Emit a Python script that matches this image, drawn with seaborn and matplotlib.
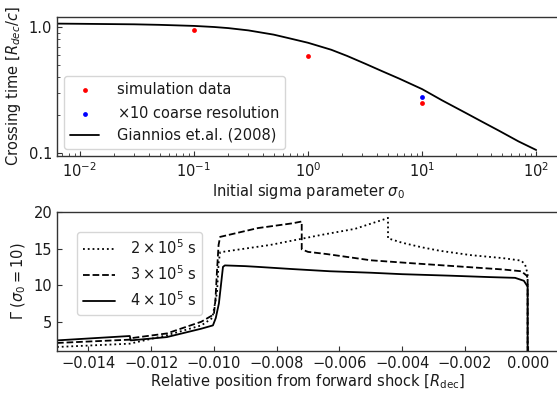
import numpy as np
import pandas as pd
import matplotlib
matplotlib.use("Agg")
import matplotlib.pyplot as plt
import seaborn as sns
from matplotlib.ticker import LogLocator, FixedLocator, FixedFormatter, NullFormatter

# ---------------- data: top panel ----------------
sigma_sim = [0.1, 1.0, 10.0]
tcross_sim = [0.95, 0.59, 0.25]
sigma_coarse = [10.0]
tcross_coarse = [0.28]
sigma_theory = [0.006, 0.01, 0.03, 0.05, 0.1, 0.15, 0.2, 0.3, 0.5, 0.7, 1.0, 1.6, 2.2, 3.2,
                4.5, 6.3, 10.0, 15.0, 24.0, 33.0, 47.0, 70.0, 100.0]
tcross_theory = [1.064, 1.06, 1.05, 1.04, 1.02, 1.0, 0.98, 0.94, 0.87, 0.81, 0.75, 0.66, 0.59, 0.51,
                 0.445, 0.39, 0.322, 0.262, 0.209, 0.179, 0.151, 0.124, 0.106]

# ---------------- data: bottom panel ----------------
pos_2e5 = [-0.0150, -0.01268, -0.0115, -0.0104, -0.01005, -0.0099, -0.00985, -0.0098, -0.0090,
           -0.0082, -0.0066, -0.0055, -0.0045, -0.00445, -0.00445, -0.0040, -0.0034, -0.0028,
           -0.0018, -0.0008, -0.0002, -0.00008, -0.00003, 0.0, 0.0]
gam_2e5 = [1.55, 2.0, 3.15, 4.5, 5.5, 9.0, 13.0, 14.5, 15.0,
           15.5, 16.85, 17.7, 19.1, 19.2, 16.4, 15.8, 15.2, 14.7,
           14.1, 13.7, 13.35, 12.8, 12.0, 11.5, 0.5]
pos_3e5 = [-0.0150, -0.01268, -0.01265, -0.0115, -0.0104, -0.0100, -0.00995, -0.0099, -0.00985,
           -0.0098, -0.0086, -0.0075, -0.0072, -0.0072, -0.0070, -0.0064, -0.0050, -0.0037,
           -0.0020, -0.0008, -0.0002, -0.00003, 0.0, 0.0]
gam_3e5 = [2.1, 2.55, 2.75, 3.4, 5.0, 6.0, 8.0, 12.0, 15.5,
           16.6, 17.8, 18.45, 18.7, 14.9, 14.55, 14.25, 13.4, 13.0,
           12.5, 12.15, 11.9, 11.3, 11.0, 0.5]
pos_4e5 = [-0.0150, -0.01268, -0.01265, -0.0115, -0.0104, -0.01003, -0.00994, -0.00984, -0.00978,
           -0.00971, -0.00965, -0.0090, -0.0086, -0.0075, -0.0063, -0.0050, -0.0040, -0.0025,
           -0.0012, -0.0004, -0.00012, -0.00003, 0.0, 0.0]
gam_4e5 = [2.45, 3.05, 2.45, 2.9, 4.05, 4.5, 5.5, 7.5, 9.8,
           12.5, 12.7, 12.6, 12.5, 12.2, 11.9, 11.7, 11.5, 11.3,
           11.1, 11.0, 10.6, 10.0, 9.8, 0.5]
labels_t = [r"$2\times10^5$ s", r"$3\times10^5$ s", r"$4\times10^5$ s"]

sns.set_style("ticks")
plt.rcParams.update({
    "font.family": ["DejaVu Sans"],
    "font.size": 10.5,
    "xtick.direction": "in",
    "ytick.direction": "in",
    "axes.edgecolor": ".2",
    "axes.linewidth": 1.0,
    "text.color": ".1",
    "axes.labelcolor": ".1",
    "xtick.color": ".2",
    "ytick.color": ".2",
    "xtick.labelcolor": ".1",
    "ytick.labelcolor": ".1",
    "mathtext.fontset": "dejavusans",
})

fig = plt.figure(figsize=(5.57, 3.93), dpi=100)
ax1 = fig.add_axes([57/557, 1-156/393, 502/557, 139/393])
ax2 = fig.add_axes([57/557, 1-351/393, 502/557, 139/393])

# ---- top panel ----
df_sim = pd.DataFrame({"s": sigma_sim, "t": tcross_sim})
df_coarse = pd.DataFrame({"s": sigma_coarse, "t": tcross_coarse})
df_th = pd.DataFrame({"s": sigma_theory, "t": tcross_theory})
sns.scatterplot(data=df_sim, x="s", y="t", ax=ax1, color="red", s=12, linewidth=0,
                label="simulation data", zorder=3)
sns.scatterplot(data=df_coarse, x="s", y="t", ax=ax1, color="blue", s=12, linewidth=0,
                label=r"$\times10$ coarse resolution", zorder=3)
sns.lineplot(data=df_th, x="s", y="t", ax=ax1, color="black", lw=1.3,
             label="Giannios et.al. (2008)", estimator=None, sort=False)
ax1.set_xscale("log")
ax1.set_yscale("log")
ax1.set_xlim(10**-2.2, 10**2.2)
ax1.set_ylim(0.095, 1.2)
ax1.yaxis.set_major_locator(FixedLocator([0.1, 1.0]))
ax1.yaxis.set_major_formatter(FixedFormatter(["0.1", "1.0"]))
ax1.yaxis.set_minor_locator(LogLocator(base=10, subs=np.arange(2, 10)))
ax1.yaxis.set_minor_formatter(NullFormatter())
ax1.xaxis.set_minor_locator(LogLocator(base=10, subs=np.arange(2, 10), numticks=20))
ax1.tick_params(which="both", direction="in")
ax1.set_xlabel(r"Initial sigma parameter $\sigma_0$", labelpad=2)
ax1.set_ylabel(r"Crossing time [$R_{dec}/c$]")
ax1.legend(loc="lower left", handletextpad=1.2)

# ---- bottom panel ----
styles = [":", "--", "-"]
for pos, gam, lab, ls in zip([pos_2e5, pos_3e5, pos_4e5], [gam_2e5, gam_3e5, gam_4e5], labels_t, styles):
    d = pd.DataFrame({"x": pos, "g": gam})
    sns.lineplot(data=d, x="x", y="g", ax=ax2, color="black", lw=1.3, linestyle=ls,
                 label=lab, estimator=None, sort=False)
ax2.set_xlim(-0.015, 0.001)
ax2.set_ylim(1, 20)
ax2.set_xticks(np.arange(-0.014, 0.0001, 0.002))
ax2.set_yticks([5, 10, 15, 20])
ax2.tick_params(direction="in")
ax2.set_xlabel(r"Relative position from forward shock [$R_{\rm dec}$]", labelpad=1)
ax2.set_ylabel(r"$\Gamma$ ($\sigma_0 = 10$)")
ax2.legend(loc="upper left", bbox_to_anchor=(0.04, 0.855), borderaxespad=0, handlelength=2.2,
           handletextpad=1.0)

fig.savefig("out.png", dpi=100)
